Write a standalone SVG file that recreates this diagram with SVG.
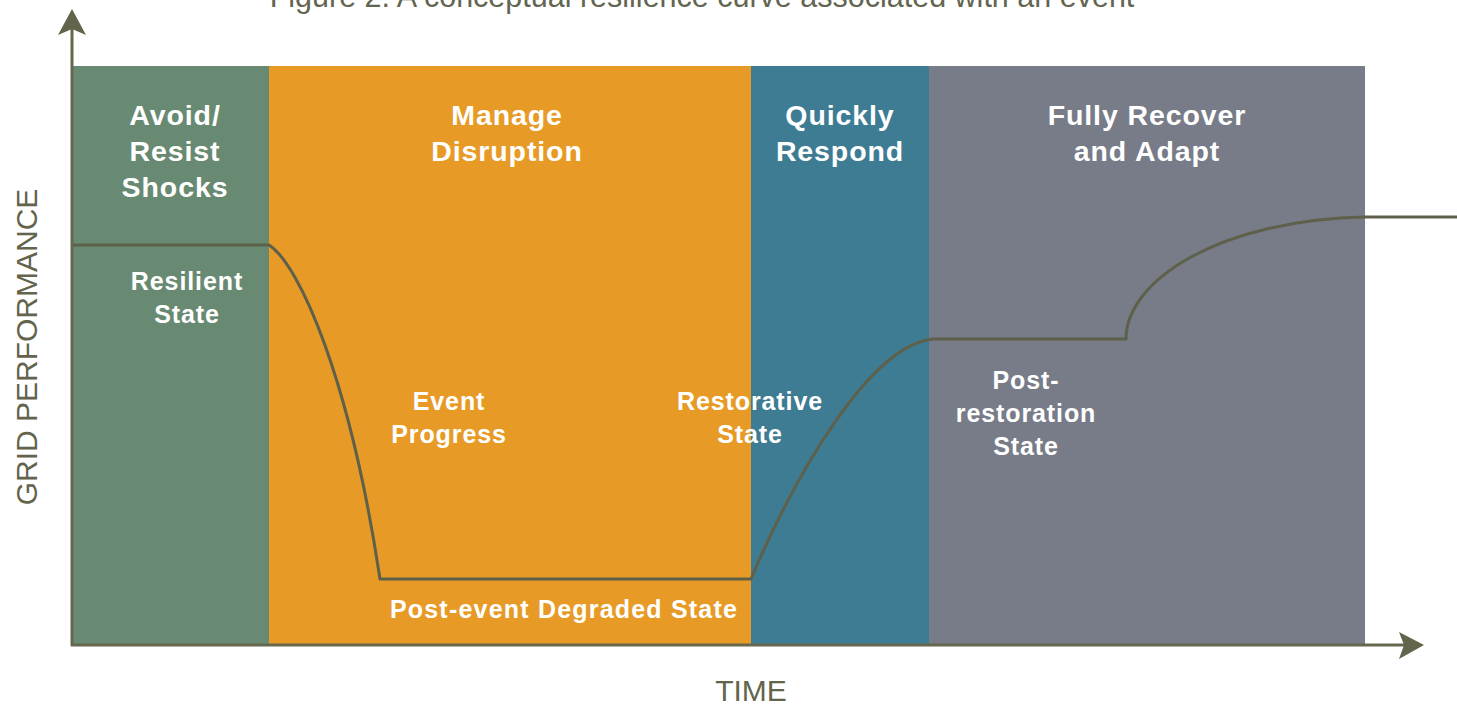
<svg xmlns="http://www.w3.org/2000/svg" width="1457" height="704" viewBox="0 0 1457 704">
<style>
.band{stroke:none}
.hdr{font-family:"Liberation Sans",Arial,sans-serif;font-weight:bold;font-size:28.5px;fill:#ffffff;text-anchor:middle;letter-spacing:0.9px}
.lbl{font-family:"Liberation Sans",Arial,sans-serif;font-weight:bold;font-size:25px;fill:#ffffff;text-anchor:middle;letter-spacing:0.9px}
.axt{font-family:"Liberation Sans",Arial,sans-serif;font-size:30px;fill:#62644c;text-anchor:middle}
.ttl{font-family:"Liberation Sans",Arial,sans-serif;font-size:30.5px;fill:#636550;text-anchor:middle}
.axis{stroke:#66674f;stroke-width:3;fill:none}
.curve{stroke:#5f604a;stroke-width:3;fill:none;stroke-linejoin:round}
.head{fill:#62644c}
</style>
<rect width="1457" height="704" fill="#ffffff"/>
<text class="ttl" x="702" y="7">Figure 2. A conceptual resilience curve associated with an event</text>
<g id="band-avoid">
<rect class="band" x="72" y="66" width="197" height="579" fill="#698a72"/>
<text class="hdr" x="175" y="125">Avoid/</text>
<text class="hdr" x="175" y="161">Resist</text>
<text class="hdr" x="175" y="197">Shocks</text>
</g>
<g id="band-manage">
<rect class="band" x="269" y="66" width="482" height="579" fill="#e79b26"/>
<text class="hdr" x="507" y="125">Manage</text>
<text class="hdr" x="507" y="161">Disruption</text>
</g>
<g id="band-respond">
<rect class="band" x="751" y="66" width="178" height="579" fill="#3e7c93"/>
<text class="hdr" x="840" y="125">Quickly</text>
<text class="hdr" x="840" y="161">Respond</text>
</g>
<g id="band-recover">
<rect class="band" x="929" y="66" width="436" height="579" fill="#777c88"/>
<text class="hdr" x="1147" y="125">Fully Recover</text>
<text class="hdr" x="1147" y="161">and Adapt</text>
</g>
<g id="connectors">
<path class="curve" d="M72,245 L269,245 C300,265 350,380 380,579 L751,579 C795,475 870,345 933,339 L1126,339 C1126,280 1220,220 1365,217 L1457,217"/>
<path class="axis" d="M72,646 L72,28"/>
<path class="head" d="M72,9 L86,35 L72,29 L58,35 Z"/>
<path class="axis" d="M71,645 L1405,645"/>
<path class="head" d="M1424,645 L1399,632 L1404,645 L1399,659 Z"/>
</g>
<g id="state-resilient">
<text class="lbl" x="187" y="290">Resilient</text>
<text class="lbl" x="187" y="323">State</text>
</g>
<g id="state-event">
<text class="lbl" x="449" y="410">Event</text>
<text class="lbl" x="449" y="443">Progress</text>
</g>
<g id="state-restorative">
<text class="lbl" x="750" y="410">Restorative</text>
<text class="lbl" x="750" y="443">State</text>
</g>
<g id="state-postrestoration">
<text class="lbl" x="1026" y="389">Post-</text>
<text class="lbl" x="1026" y="422">restoration</text>
<text class="lbl" x="1026" y="455">State</text>
</g>
<g id="state-degraded">
<text class="lbl" x="564" y="618" style="letter-spacing:1.2px">Post-event Degraded State</text>
</g>
<text class="axt" x="751" y="701">TIME</text>
<text class="axt" transform="translate(37,347) rotate(-90)" x="0" y="0">GRID PERFORMANCE</text>
</svg>
